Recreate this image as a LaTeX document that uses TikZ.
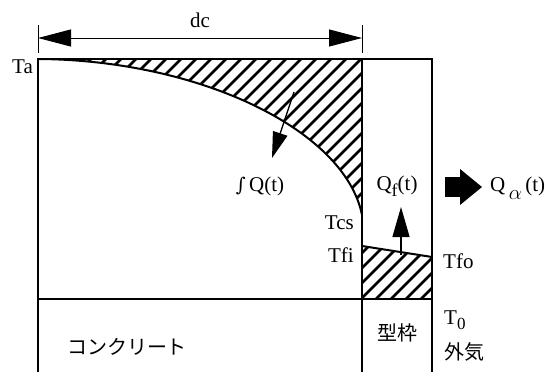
\documentclass[tikz,border=0pt]{standalone}
\usepackage{fontspec}
\setmainfont{Liberation Serif}
\newfontfamily\jpfont{Noto Sans CJK JP}
\newfontfamily\symfont{DejaVu Serif}
\usetikzlibrary{arrows.meta}
\begin{document}
\begin{tikzpicture}[x=1pt,y=-1pt,
  mainline/.style={line width=2.6pt},
  curveline/.style={line width=2pt},
  hatchline/.style={line width=2.5pt},
  dimline/.style={line width=1pt},
  lbl/.style={font=\fontsize{21}{24}\selectfont, inner sep=0pt},
  jlbl/.style={font=\jpfont\fontsize{20}{24}\selectfont, inner sep=0pt},
  dimtip/.style={{Triangle[length=33pt,width=17pt]}-{Triangle[length=33pt,width=17pt]}},
  flowarrow/.style={-{Triangle[length=30pt,width=17pt]}, line width=1.3pt}]
\useasboundingbox (0,0) rectangle (550,372);

% key coordinates
\coordinate (TL) at (38,59);
\coordinate (TM) at (362,59);
\coordinate (TR) at (432,59);
\coordinate (BL) at (38,372);
\coordinate (BM) at (362,372);
\coordinate (BR) at (432,372);
\coordinate (ML) at (38,299);
\coordinate (MR) at (432,299);
\coordinate (MM) at (362,299);
\coordinate (CS) at (362,215);
\coordinate (FI) at (362,246);
\coordinate (FO) at (432,257);

% hatching in concrete
\begin{scope}
  \clip (TL) .. controls (200,60) and (345,130) .. (CS) -- (TM) -- cycle;
  \foreach \x in {-140,-125,...,370} \draw[hatchline] (\x,230) -- ++(200,-200);
\end{scope}
% hatching in formwork
\begin{scope}
  \clip (FI) -- (FO) -- (MR) -- (MM) -- cycle;
  \foreach \x in {290,305,...,440} \draw[hatchline] (\x,310) -- ++(90,-90);
\end{scope}

% frame
\draw[mainline] (BL) -- (TL) -- (TR) -- (BR);
\draw[mainline] (TM) -- (BM);
\draw[mainline] (ML) -- (MR);
\draw[curveline] (TL) .. controls (200,60) and (345,130) .. (CS);
\draw[curveline] (FI) -- (FO);

% dimension dc
\coordinate (dcL) at (38,38);
\coordinate (dcR) at (362,38);
\draw[dimline] (38,25) -- (38,53);
\draw[dimline] (362,25) -- (362,53);
\draw[dimline, dimtip] (dcL) -- (dcR);
\node[lbl] (dc) at (200,20) {dc};

% flow arrows
\coordinate (q1s) at (294,92);
\coordinate (q1e) at (272,158);
\draw[flowarrow, -{Triangle[length=26pt,width=15pt]}] (q1s) -- (q1e);
\coordinate (q2s) at (401,255);
\coordinate (q2e) at (401,207);
\draw[flowarrow] (q2s) -- (q2e);

% big arrow
\fill (445,177) rectangle (462,197);
\fill (460,169) -- (482,187) -- (460,205) -- cycle;

% labels
\node[lbl, anchor=east] (ta) at (33,67) {Ta};
\node[lbl] (intq) at (260,186) {{\symfont\fontsize{19}{22}\selectfont ∫}\,Q(t)};
\node[lbl] (qf) at (397,186) {Q\raisebox{-6pt}{\fontsize{18}{18}\selectfont f}(t)};
\node[lbl, anchor=west] (qa) at (490,188) {Q\,\raisebox{-8pt}{$\alpha$}\,(t)};
\node[lbl, anchor=east] (tcs) at (354,223) {Tcs};
\node[lbl, anchor=east] (tfi) at (354,255) {Tfi};
\node[lbl, anchor=west] (tfo) at (443,261) {Tfo};
\node[lbl, anchor=west] (t0) at (444,320) {T\raisebox{-5pt}{\fontsize{17}{17}\selectfont 0}};
\node[jlbl, anchor=west] (gaiki) at (444,352) {外気};
\node[jlbl] (katawaku) at (397,333) {型枠};
\node[jlbl] (conc) at (127,347) {コンクリート};
\end{tikzpicture}
\end{document}
